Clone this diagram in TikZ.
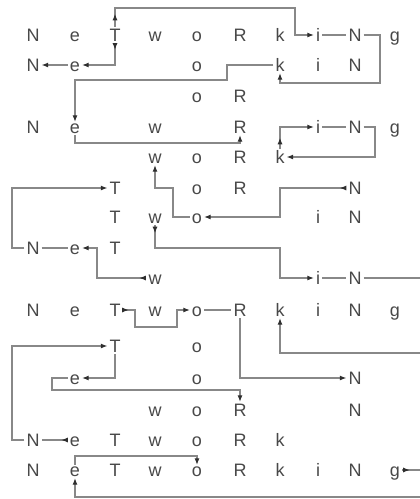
\documentclass[tikz,border=0pt]{standalone}
\usepackage{fontspec}
\setmainfont{Liberation Sans}
\usetikzlibrary{arrows.meta,decorations.markings}
\definecolor{txtc}{HTML}{484848}
\definecolor{linec}{HTML}{888888}
\definecolor{arrc}{HTML}{2E2E2E}
\newcommand\putrow[3]{%
  \foreach \c/\l in {#3}{%
    \pgfmathsetmacro\xx{{33,75,115,155,197,240,280,318,355,395}[\c]}%
    \node[lt] (r#1c\c) at (\xx,#2) {\l};}}
\begin{document}
\begin{tikzpicture}[x=1pt,y=-1pt,
  lt/.style={font=\fontsize{18}{20}\selectfont, text=txtc, inner xsep=2pt, inner ysep=1.5pt, text height=13pt, text depth=0pt},
  ln/.style={draw=linec, line width=1.05pt},
  >={Latex[length=6.5pt,width=5pt,color=arrc]},
  mk/.style={postaction={decorate,decoration={markings,mark=at position #1 with {\arrow{>}}}}}]
\useasboundingbox (0,0) rectangle (420,499);
\putrow{1}{35}{0/N,1/e,2/T,3/w,4/o,5/R,6/k,7/i,8/N,9/g}
\putrow{2}{65}{0/N,1/e,4/o,6/k,7/i,8/N}
\putrow{3}{96}{4/o,5/R}
\putrow{4}{127}{0/N,1/e,3/w,5/R,7/i,8/N,9/g}
\putrow{5}{157}{3/w,4/o,5/R,6/k}
\putrow{6}{188}{2/T,4/o,5/R,8/N}
\putrow{7}{217}{2/T,3/w,4/o,7/i,8/N}
\putrow{8}{248}{0/N,1/e,2/T}
\putrow{9}{278}{3/w,7/i,8/N}
\putrow{10}{310}{0/N,1/e,2/T,3/w,4/o,5/R,6/k,7/i,8/N,9/g}
\putrow{11}{346}{2/T,4/o}
\putrow{12}{378}{1/e,4/o,8/N}
\putrow{13}{410}{3/w,4/o,5/R,8/N}
\putrow{14}{440}{0/N,1/e,2/T,3/w,4/o,5/R,6/k}
\putrow{15}{470}{0/N,1/e,2/T,3/w,4/o,5/R,6/k,7/i,8/N,9/g}
\coordinate (E9) at (420,278);
\coordinate (E10) at (420,353);
\coordinate (E15) at (420,470);
\coordinate (E16) at (420,497);
% row 1
\draw[ln,->,mk=13pt] (r1c2.north) |- (295,8) |- (r1c7.west);
\draw[ln] (r1c7) -- (r1c8);
\draw[ln,->] (r1c8.east) -| (380,83) -| (r2c6.south);
\draw[ln,->,mk=6.5pt] (r1c2.south) |- (r2c1.east);
\draw[ln,->] (r2c1) -- (r2c0);
\draw[ln,->,shorten >=-3pt] (r2c6.west) -| (227,80) -| (r4c1.north);
% rows 4-5
\draw[ln,->] (r4c1.south) |- (240,143) -- (r4c5.south);
\draw[ln,->,mk=11pt] (r5c6.north) |- (r4c7.west);
\draw[ln] (r4c7) -- (r4c8);
\draw[ln,->] (r4c8.east) -| (375,157) -- (r5c6.east);
% rows 5-9
\draw[ln,->] (r7c4.west) -| (173,188) -| (r5c3.south);
\draw[ln,->,mk=6.5pt] (r6c8.west) -| (280,217) -- (r7c4.east);
\draw[ln,->] (r8c0.west) -| (12,188) -- (r6c2.west);
\draw[ln] (r8c0) -- (r8c1);
\draw[ln,->,mk=7pt] (r9c3.west) -| (97,248) -- (r8c1.east);
\draw[ln,->,mk=8pt] (r7c3.south) |- (280,248) |- (r9c7.west);
\draw[ln] (r9c7) -- (r9c8);
\draw[ln] (r9c8.east) -- (E9);
% row 10
\draw[ln,->,mk=6pt] (r10c2.east) -| (135,327) -| (177,310) -- (r10c4.west);
\draw[ln] (r10c4) -- (r10c5);
\draw[ln,->] (r10c5.south) |- (r12c8.west);
\draw[ln,->] (E10) -| (r10c6.south);
% rows 11-15
\draw[ln,->] (r14c0.west) -| (12,346) -- (r11c2.west);
\draw[ln,mk=6.5pt] (r14c1.west) -- (r14c0.east);
\draw[ln,->] (r11c2.south) |- (r12c1.east);
\draw[ln,->] (r12c1.west) -| (52,390) -| (r13c5.north);
\draw[ln,->,shorten <=-3pt,shorten >=-3pt] (r15c1.north) |- (197,456) -- (r15c4.north);
\draw[ln,->] (E16) -| (r15c1.south);
\draw[ln,mk=7.5pt] (r15c9.east) -- (E15);
\end{tikzpicture}
\end{document}
